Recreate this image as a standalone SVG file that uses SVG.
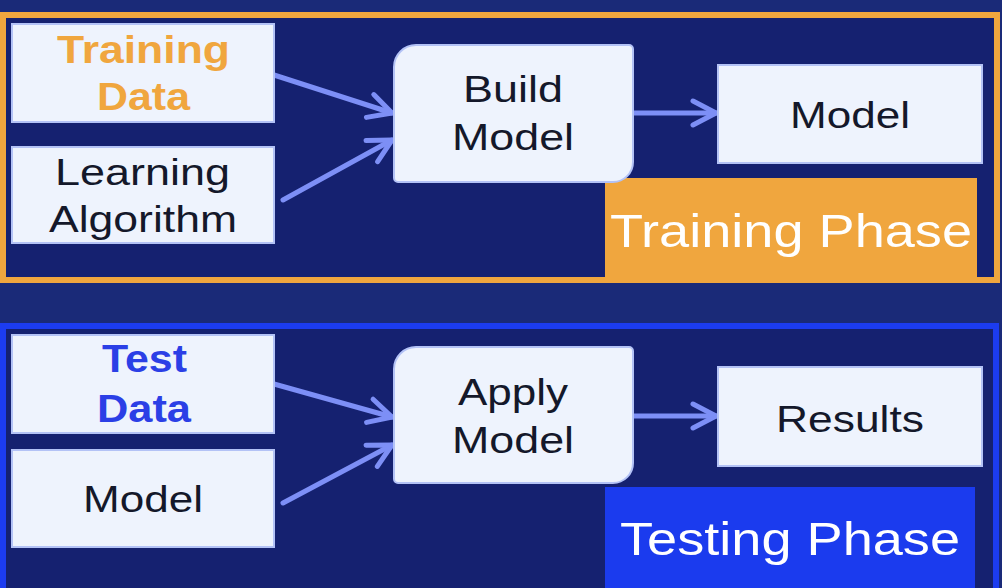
<svg xmlns="http://www.w3.org/2000/svg" width="1002" height="588" viewBox="0 0 1002 588">
  <defs>
    <style>
      .box { fill: #eef3fd; stroke: #b3c2f6; stroke-width: 2; }
      .lbl { font-family: "Liberation Sans", Arial, sans-serif; font-size: 36px; fill: #14182a; }
      .bold { font-weight: bold; font-size: 38px; }
      .phase { font-family: "Liberation Sans", Arial, sans-serif; font-size: 47px; fill: #ffffff; }
      .conn { stroke: #7d8ff6; stroke-width: 5; fill: none; stroke-linecap: round; }
    </style>
    <marker id="arr" viewBox="0 0 30 30" refX="28" refY="15" markerWidth="30" markerHeight="30" markerUnits="userSpaceOnUse" orient="auto">
      <path d="M5,3 L28,15 L5,27" fill="none" stroke="#7d8ff6" stroke-width="5" stroke-linecap="round" stroke-linejoin="round"/>
    </marker>
  </defs>

  <!-- background -->
  <rect x="0" y="0" width="1002" height="588" fill="#1a2a78"/>

  <!-- Training section frame -->
  <g id="training-section">
    <rect x="3" y="15" width="994" height="265" fill="#152170" stroke="#f0a63e" stroke-width="6"/>
    <rect x="605" y="178" width="372" height="99" fill="#f0a63e"/>
    <text class="phase" x="610" y="247" textLength="362" lengthAdjust="spacingAndGlyphs">Training Phase</text>
  </g>

  <!-- Testing section frame -->
  <g id="testing-section">
    <rect x="3" y="326" width="993" height="270" fill="#152170" stroke="#1c3cf0" stroke-width="6"/>
    <rect x="605" y="487" width="370" height="101" fill="#1b3bee"/>
    <text class="phase" x="620" y="555" textLength="340" lengthAdjust="spacingAndGlyphs">Testing Phase</text>
  </g>

  <!-- connectors -->
  <g id="connectors">
    <line class="conn" x1="274" y1="75" x2="392" y2="113" marker-end="url(#arr)"/>
    <line class="conn" x1="283" y1="200" x2="392" y2="140" marker-end="url(#arr)"/>
    <line class="conn" x1="633" y1="113" x2="716" y2="113" marker-end="url(#arr)"/>
    <line class="conn" x1="274" y1="384" x2="392" y2="417" marker-end="url(#arr)"/>
    <line class="conn" x1="283" y1="503" x2="392" y2="445" marker-end="url(#arr)"/>
    <line class="conn" x1="633" y1="416" x2="716" y2="416" marker-end="url(#arr)"/>
  </g>

  <!-- Training nodes -->
  <g id="training-data">
    <rect class="box" x="12" y="24" width="262" height="98"/>
    <text class="lbl bold" x="57" y="63" fill="#f0a63e" style="fill:#f0a63e" textLength="173" lengthAdjust="spacingAndGlyphs">Training</text>
    <text class="lbl bold" x="97" y="110" style="fill:#f0a63e" textLength="93" lengthAdjust="spacingAndGlyphs">Data</text>
  </g>
  <g id="learning-algorithm">
    <rect class="box" x="12" y="147" width="262" height="96"/>
    <text class="lbl" x="55" y="185" textLength="175" lengthAdjust="spacingAndGlyphs">Learning</text>
    <text class="lbl" x="49" y="232" textLength="188" lengthAdjust="spacingAndGlyphs">Algorithm</text>
  </g>
  <g id="build-model">
    <path class="box" d="M416,45 H629 A4,4 0 0 1 633,49 V162 A20,20 0 0 1 613,182 H398 A4,4 0 0 1 394,178 V67 A22,22 0 0 1 416,45 Z"/>
    <text class="lbl" x="463" y="102" textLength="100" lengthAdjust="spacingAndGlyphs">Build</text>
    <text class="lbl" x="452" y="150" textLength="122" lengthAdjust="spacingAndGlyphs">Model</text>
  </g>
  <g id="model-out">
    <rect class="box" x="718" y="65" width="264" height="98"/>
    <text class="lbl" x="790" y="128" textLength="120" lengthAdjust="spacingAndGlyphs">Model</text>
  </g>

  <!-- Testing nodes -->
  <g id="test-data">
    <rect class="box" x="12" y="335" width="262" height="98"/>
    <text class="lbl bold" x="102" y="372" style="fill:#2b3fe6" textLength="85" lengthAdjust="spacingAndGlyphs">Test</text>
    <text class="lbl bold" x="97" y="422" style="fill:#2b3fe6" textLength="94" lengthAdjust="spacingAndGlyphs">Data</text>
  </g>
  <g id="model-in">
    <rect class="box" x="12" y="450" width="262" height="97"/>
    <text class="lbl" x="83" y="512" textLength="120" lengthAdjust="spacingAndGlyphs">Model</text>
  </g>
  <g id="apply-model">
    <path class="box" d="M416,347 H629 A4,4 0 0 1 633,351 V463 A20,20 0 0 1 613,483 H398 A4,4 0 0 1 394,479 V369 A22,22 0 0 1 416,347 Z"/>
    <text class="lbl" x="458" y="405" textLength="110" lengthAdjust="spacingAndGlyphs">Apply</text>
    <text class="lbl" x="452" y="453" textLength="122" lengthAdjust="spacingAndGlyphs">Model</text>
  </g>
  <g id="results">
    <rect class="box" x="718" y="367" width="264" height="99"/>
    <text class="lbl" x="776" y="432" textLength="148" lengthAdjust="spacingAndGlyphs">Results</text>
  </g>
</svg>
